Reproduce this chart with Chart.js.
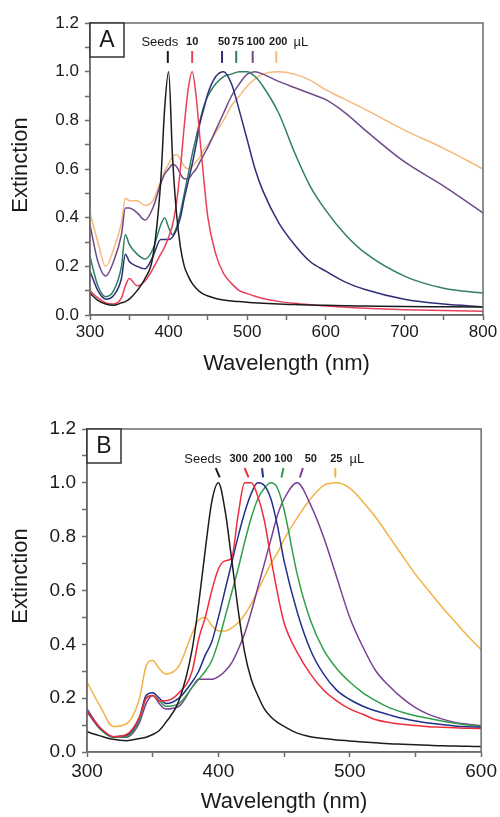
<!DOCTYPE html>
<html>
<head>
<meta charset="utf-8">
<script src="https://cdn.jsdelivr.net/npm/chart.js@4.4.1/dist/chart.umd.min.js"></script>
<style>
  body { margin: 0; background: #fff; }
  .panel { position: absolute; left: 0; width: 500px; }
</style>
</head>
<body>
<div class="panel" style="top:0;height:400px"><canvas id="chartA" width="500" height="400"></canvas></div>
<div class="panel" style="top:410px;height:407px"><canvas id="chartB" width="500" height="407"></canvas></div>
<script>
// ---- Panel A: seeds + 10..200 µL ----
const nmA = [300,310,320,330,340,345,350,360,370,380,390,395,400,405,410,415,420,425,430,435,440,445,450,460,470,480,490,500,510,520,540,560,580,600,625,650,700,750,800];
const seedsA = [.09,.06,.045,.04,.05,.055,.065,.1,.15,.24,.55,.85,1.0,.65,.42,.28,.2,.16,.13,.11,.095,.085,.078,.068,.062,.058,.055,.052,.05,.048,.045,.043,.041,.04,.038,.037,.035,.034,.033];
const a10 = [.1,.07,.05,.045,.07,.12,.15,.12,.14,.19,.25,.28,.32,.37,.46,.6,.78,.93,1.0,.9,.72,.55,.4,.25,.17,.13,.1,.088,.077,.068,.056,.048,.042,.037,.032,.028,.022,.018,.015];
const a50 = [.18,.1,.065,.08,.15,.25,.22,.2,.19,.24,.31,.31,.31,.32,.35,.4,.48,.55,.62,.7,.79,.85,.91,.98,1.0,.95,.84,.72,.6,.51,.38,.29,.22,.18,.135,.105,.065,.045,.034];
const a75 = [.24,.12,.075,.1,.2,.33,.29,.25,.23,.27,.37,.4,.36,.33,.36,.42,.5,.58,.66,.73,.8,.86,.9,.95,.98,.99,1.0,1.0,.98,.94,.83,.67,.53,.43,.33,.255,.16,.11,.09];
const a100 = [.37,.22,.16,.22,.33,.44,.44,.42,.39,.44,.54,.58,.6,.62,.61,.58,.56,.56,.58,.6,.63,.66,.69,.76,.83,.9,.95,.99,1.0,.99,.96,.935,.91,.885,.83,.76,.63,.53,.42];
const a200 = [.42,.3,.2,.27,.38,.48,.47,.47,.45,.47,.55,.59,.62,.65,.66,.64,.61,.6,.61,.63,.65,.68,.7,.75,.8,.86,.9,.94,.97,.99,1.0,.99,.965,.925,.885,.845,.76,.685,.6];
const tagsA = ['Seeds','10','50','75','100','200'];
const peaksA = [399,430,468,486,507,537];

// ---- Panel B: seeds + 300..25 µL ----
const nmB = [300,310,320,330,340,345,350,355,360,370,380,385,390,395,400,405,410,415,420,425,430,435,440,445,450,460,470,480,490,500,510,520,530,540,550,560,570,580,590,600];
const seedsB = [.075,.06,.047,.042,.05,.055,.065,.08,.11,.19,.38,.55,.75,.93,1.0,.9,.72,.53,.37,.27,.21,.16,.13,.11,.095,.07,.057,.05,.045,.041,.037,.034,.031,.029,.027,.025,.023,.022,.021,.02];
const b300 = [.15,.09,.057,.065,.13,.2,.21,.19,.19,.22,.3,.42,.5,.6,.68,.71,.72,.88,1.0,1.0,.95,.86,.72,.59,.48,.37,.29,.23,.19,.16,.14,.12,.11,.103,.098,.094,.092,.09,.088,.087];
const b200 = [.15,.088,.057,.062,.13,.21,.22,.2,.18,.2,.26,.3,.36,.41,.5,.6,.7,.8,.89,.96,1.0,.99,.94,.84,.71,.52,.38,.29,.23,.195,.17,.152,.138,.125,.115,.108,.102,.097,.094,.092];
const b100 = [.15,.085,.055,.058,.12,.2,.21,.19,.17,.18,.24,.27,.3,.34,.41,.5,.59,.68,.78,.87,.94,.98,1.0,.98,.9,.66,.49,.38,.31,.26,.22,.19,.165,.148,.135,.125,.115,.107,.1,.095];
const b50 = [.16,.09,.055,.055,.11,.18,.21,.18,.16,.17,.24,.27,.27,.27,.28,.3,.33,.38,.44,.52,.61,.7,.79,.88,.94,1.0,.92,.8,.65,.5,.39,.3,.245,.2,.165,.14,.123,.11,.103,.097];
const b25 = [.26,.17,.095,.105,.2,.32,.34,.31,.29,.32,.44,.49,.5,.47,.45,.45,.46,.48,.51,.55,.6,.65,.7,.74,.79,.87,.94,.99,1.0,.98,.93,.87,.8,.73,.66,.6,.54,.485,.43,.38];
const tagsB = ['Seeds','300','200','100','50','25'];
const peaksB = [401,423,434,448,462,489];

const yTicks = [0, 0.2, 0.4, 0.6, 0.8, 1.0, 1.2];

const FONT = '"Liberation Sans", Arial, sans-serif';
const colorsA = ['#1c1c1c', '#e8405a', '#2e2f78', '#2f7f66', '#6f4a8a', '#f5b97c'];
const colorsB = ['#1c1c1c', '#ee2c3c', '#23308c', '#2fa04a', '#7c3f96', '#f2b245'];

// frame, panel letter, y title and the peak tags
const decor = {
  id: 'decor',
  afterDraw(chart, args, o) {
    const { ctx, chartArea: a, scales: { x, y } } = chart;
    ctx.save();
    ctx.strokeStyle = '#6b6b6b';
    ctx.lineWidth = 1.5;
    ctx.strokeRect(a.left, a.top, a.right - a.left, a.bottom - a.top);

    ctx.fillStyle = '#fff';
    ctx.fillRect(a.left, a.top, 34, 34);
    ctx.strokeStyle = '#333';
    ctx.strokeRect(a.left, a.top, 34, 34);
    ctx.fillStyle = '#1a1a1a';
    ctx.font = '23px ' + FONT;
    ctx.textAlign = 'center';
    ctx.textBaseline = 'middle';
    ctx.fillText(o.letter, a.left + 17, a.top + 18);

    ctx.save();
    ctx.translate(20.5, o.yTitleY);
    ctx.rotate(-Math.PI / 2);
    ctx.font = '22px ' + FONT;
    ctx.fillText('Extinction', 0, 0);
    ctx.restore();

    const yl = y.getPixelForValue(o.labelAt);
    const yt = y.getPixelForValue(o.tickTop);
    const yb = y.getPixelForValue(o.tickBottom);
    let right = 0;
    o.tags.forEach((t, i) => {
      const xb = x.getPixelForValue(o.peaks[i]);
      ctx.strokeStyle = o.colors[i];
      ctx.lineWidth = 2;
      ctx.beginPath();
      ctx.moveTo(xb + o.tilt[i], yt);
      ctx.lineTo(xb, yb);
      ctx.stroke();
      ctx.fillStyle = '#1a1a1a';
      ctx.font = i === 0 ? '13px ' + FONT : 'bold ' + o.numSize + 'px ' + FONT;
      const lx = xb + o.dx[i];
      ctx.fillText(t, lx, yl);
      right = lx + ctx.measureText(t).width / 2;
    });
    ctx.textAlign = 'left';
    ctx.font = '13px ' + FONT;
    ctx.fillText('µL', right + o.unitGap, yl);
    ctx.restore();
  }
};

function makeChart(id, nm, series, colors, cfg) {
  const datasets = series.map((vals, i) => ({
    data: nm.map((w, k) => ({ x: w, y: vals[k] })),
    borderColor: colors[i],
    borderWidth: 1.5,
    pointRadius: 0,
    cubicInterpolationMode: 'monotone',
    fill: false
  }));
  return new Chart(document.getElementById(id), {
    type: 'line',
    data: { datasets },
    options: {
      responsive: false,
      animation: false,
      devicePixelRatio: 1,
      layout: { padding: { top: cfg.top, right: 17, left: 0, bottom: 0 } },
      plugins: { legend: { display: false }, tooltip: { enabled: false }, decor: cfg.decor },
      scales: {
        x: {
          type: 'linear',
          min: nm[0],
          max: nm[nm.length - 1],
          afterFit: s => { s.height = cfg.xHeight; },
          ticks: {
            stepSize: 50,
            autoSkip: false,
            maxRotation: 0,
            padding: cfg.xPad,
            color: '#1a1a1a',
            font: { size: cfg.tickSize, family: FONT },
            callback: v => (v % 100 === 0 ? v : '')
          },
          grid: { drawOnChartArea: false, drawTicks: true, tickLength: 5, color: '#6b6b6b', tickWidth: 1.5 },
          border: { color: '#6b6b6b', width: 1.5 },
          title: {
            display: true,
            text: 'Wavelength (nm)',
            color: '#1a1a1a',
            font: { size: 22, family: FONT },
            padding: { top: 0, bottom: cfg.titlePad }
          }
        },
        y: {
          min: 0,
          max: 1.2,
          afterFit: s => { s.width = cfg.yWidth; },
          ticks: {
            stepSize: 0.1,
            autoSkip: false,
            padding: 6,
            color: '#1a1a1a',
            font: { size: cfg.tickSize, family: FONT },
            callback: v => (yTicks.some(t => Math.abs(t - v) < 1e-6) ? v.toFixed(1) : '')
          },
          grid: { drawOnChartArea: false, drawTicks: true, tickLength: 5, color: '#6b6b6b', tickWidth: 1.5 },
          border: { color: '#6b6b6b', width: 1.5 }
        }
      }
    },
    plugins: [decor]
  });
}

makeChart('chartA', nmA, [seedsA, a10, a50, a75, a100, a200], colorsA, {
  top: 23, xHeight: 85, yWidth: 90, xPad: 2, tickSize: 17, titlePad: 23,
  decor: {
    letter: 'A', yTitleY: 165, tags: tagsA, peaks: peaksA, colors: colorsA,
    dx: [-8, 0, 2, 1.5, 3, 2], tilt: [0, 0, 0, 0, 0, 0],
    labelAt: 1.122, tickTop: 1.085, tickBottom: 1.036, numSize: 11, unitGap: 6
  }
});

makeChart('chartB', nmB, [seedsB, b300, b200, b100, b50, b25], colorsB, {
  top: 19, xHeight: 65, yWidth: 87, xPad: 3, tickSize: 19, titlePad: 2,
  decor: {
    letter: 'B', yTitleY: 166, tags: tagsB, peaks: peaksB, colors: colorsB,
    dx: [-17, -10, -1, 2, 11, 1], tilt: [-4, -4, -1, 2, 3, 0],
    labelAt: 1.088, tickTop: 1.055, tickBottom: 1.02, numSize: 11, unitGap: 7
  }
});
</script>
</body>
</html>
